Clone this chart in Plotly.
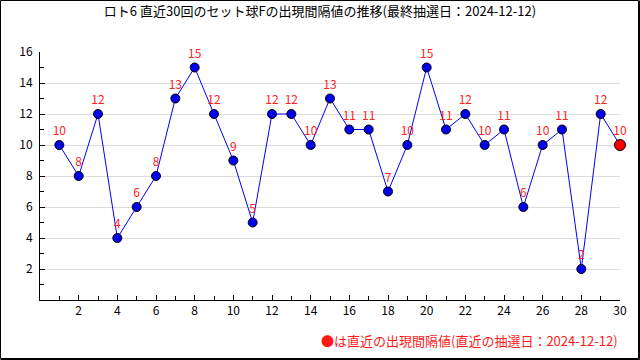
import plotly.graph_objects as go

draws = list(range(1, 31))
intervals = [10, 8, 12, 4, 6, 8, 13, 15, 12, 9, 5, 12, 12, 10, 13, 11, 11, 7, 10, 15,
             11, 12, 10, 11, 6, 10, 11, 2, 12, 10]
title_text = "ロト6 直近30回のセット球Fの出現間隔値の推移(最終抽選日：2024-12-12)"
note_text = "●は直近の出現間隔値(直近の抽選日：2024-12-12)"
x_ticks = list(range(2, 31, 2))
y_ticks = list(range(2, 17, 2))

FONT = "Noto Sans CJK JP"
W, H = 640, 360
L, R, T, B = 40, 20, 52, 60
pw, ph = W - L - R, H - T - B


def px(x):
    return (x - L) / pw


def py(y):
    return (H - B - y) / ph


fig = go.Figure()
fig.add_trace(go.Scatter(
    x=draws, y=intervals, mode="lines+markers+text",
    line=dict(color="#0000ff", width=1),
    marker=dict(color="#0000ee", size=9, line=dict(color="black", width=1)),
    text=[str(v) for v in intervals], textposition="top center",
    textfont=dict(color="#ff2020", size=12, family=FONT),
    cliponaxis=False, showlegend=False,
))
fig.add_trace(go.Scatter(
    x=[draws[-1]], y=[intervals[-1]], mode="markers",
    marker=dict(color="#ff0000", size=11, line=dict(color="black", width=1)),
    cliponaxis=False, showlegend=False,
))

fig.update_layout(
    width=W, height=H,
    margin=dict(l=L, r=R, t=T, b=B),
    paper_bgcolor="white", plot_bgcolor="white",
    font=dict(family=FONT, size=12, color="black"),
    title=dict(text=title_text, x=0.5, xanchor="center", y=1 - 11 / H, yanchor="middle",
               font=dict(size=13, family=FONT, color="black")),
    xaxis=dict(range=[0, 30], tickvals=x_ticks, ticks="inside", ticklen=5,
               tickcolor="black", showgrid=False, zeroline=False,
               showline=True, linecolor="black", linewidth=1,
               tickfont=dict(size=12, family=FONT),
               minor=dict(dtick=1, tick0=0, ticks="inside", ticklen=4, tickcolor="black",
                          showgrid=False)),
    yaxis=dict(range=[0, 16], tickvals=y_ticks, ticks="inside", ticklen=5,
               tickcolor="black", showgrid=True, gridcolor="#dcdcdc", gridwidth=1,
               zeroline=False, showline=True, linecolor="black", linewidth=1,
               ticklabelstandoff=4,
               tickfont=dict(size=12, family=FONT),
               minor=dict(dtick=1, tick0=0, ticks="inside", ticklen=4, tickcolor="black",
                          showgrid=False)),
    shapes=[
        dict(type="rect", xref="paper", yref="paper",
             x0=px(0.5), x1=px(638.5), y0=py(358.5), y1=py(0.5),
             line=dict(color="black", width=1), fillcolor="rgba(0,0,0,0)"),
        dict(type="line", xref="paper", yref="paper",
             x0=px(639.5), x1=px(639.5), y0=py(359.5), y1=py(0.5),
             line=dict(color="black", width=1)),
        dict(type="line", xref="paper", yref="paper",
             x0=px(0.5), x1=px(639.5), y0=py(359.5), y1=py(359.5),
             line=dict(color="black", width=1)),
    ],
    annotations=[dict(text=note_text, xref="paper", yref="paper",
                      x=px(620), y=py(340), xanchor="right", yanchor="middle",
                      showarrow=False, font=dict(color="#ff1a1a", size=13, family=FONT))],
)

fig.write_html("out.html", config={"displayModeBar": False},
               post_script="document.body.style.margin='0';")
